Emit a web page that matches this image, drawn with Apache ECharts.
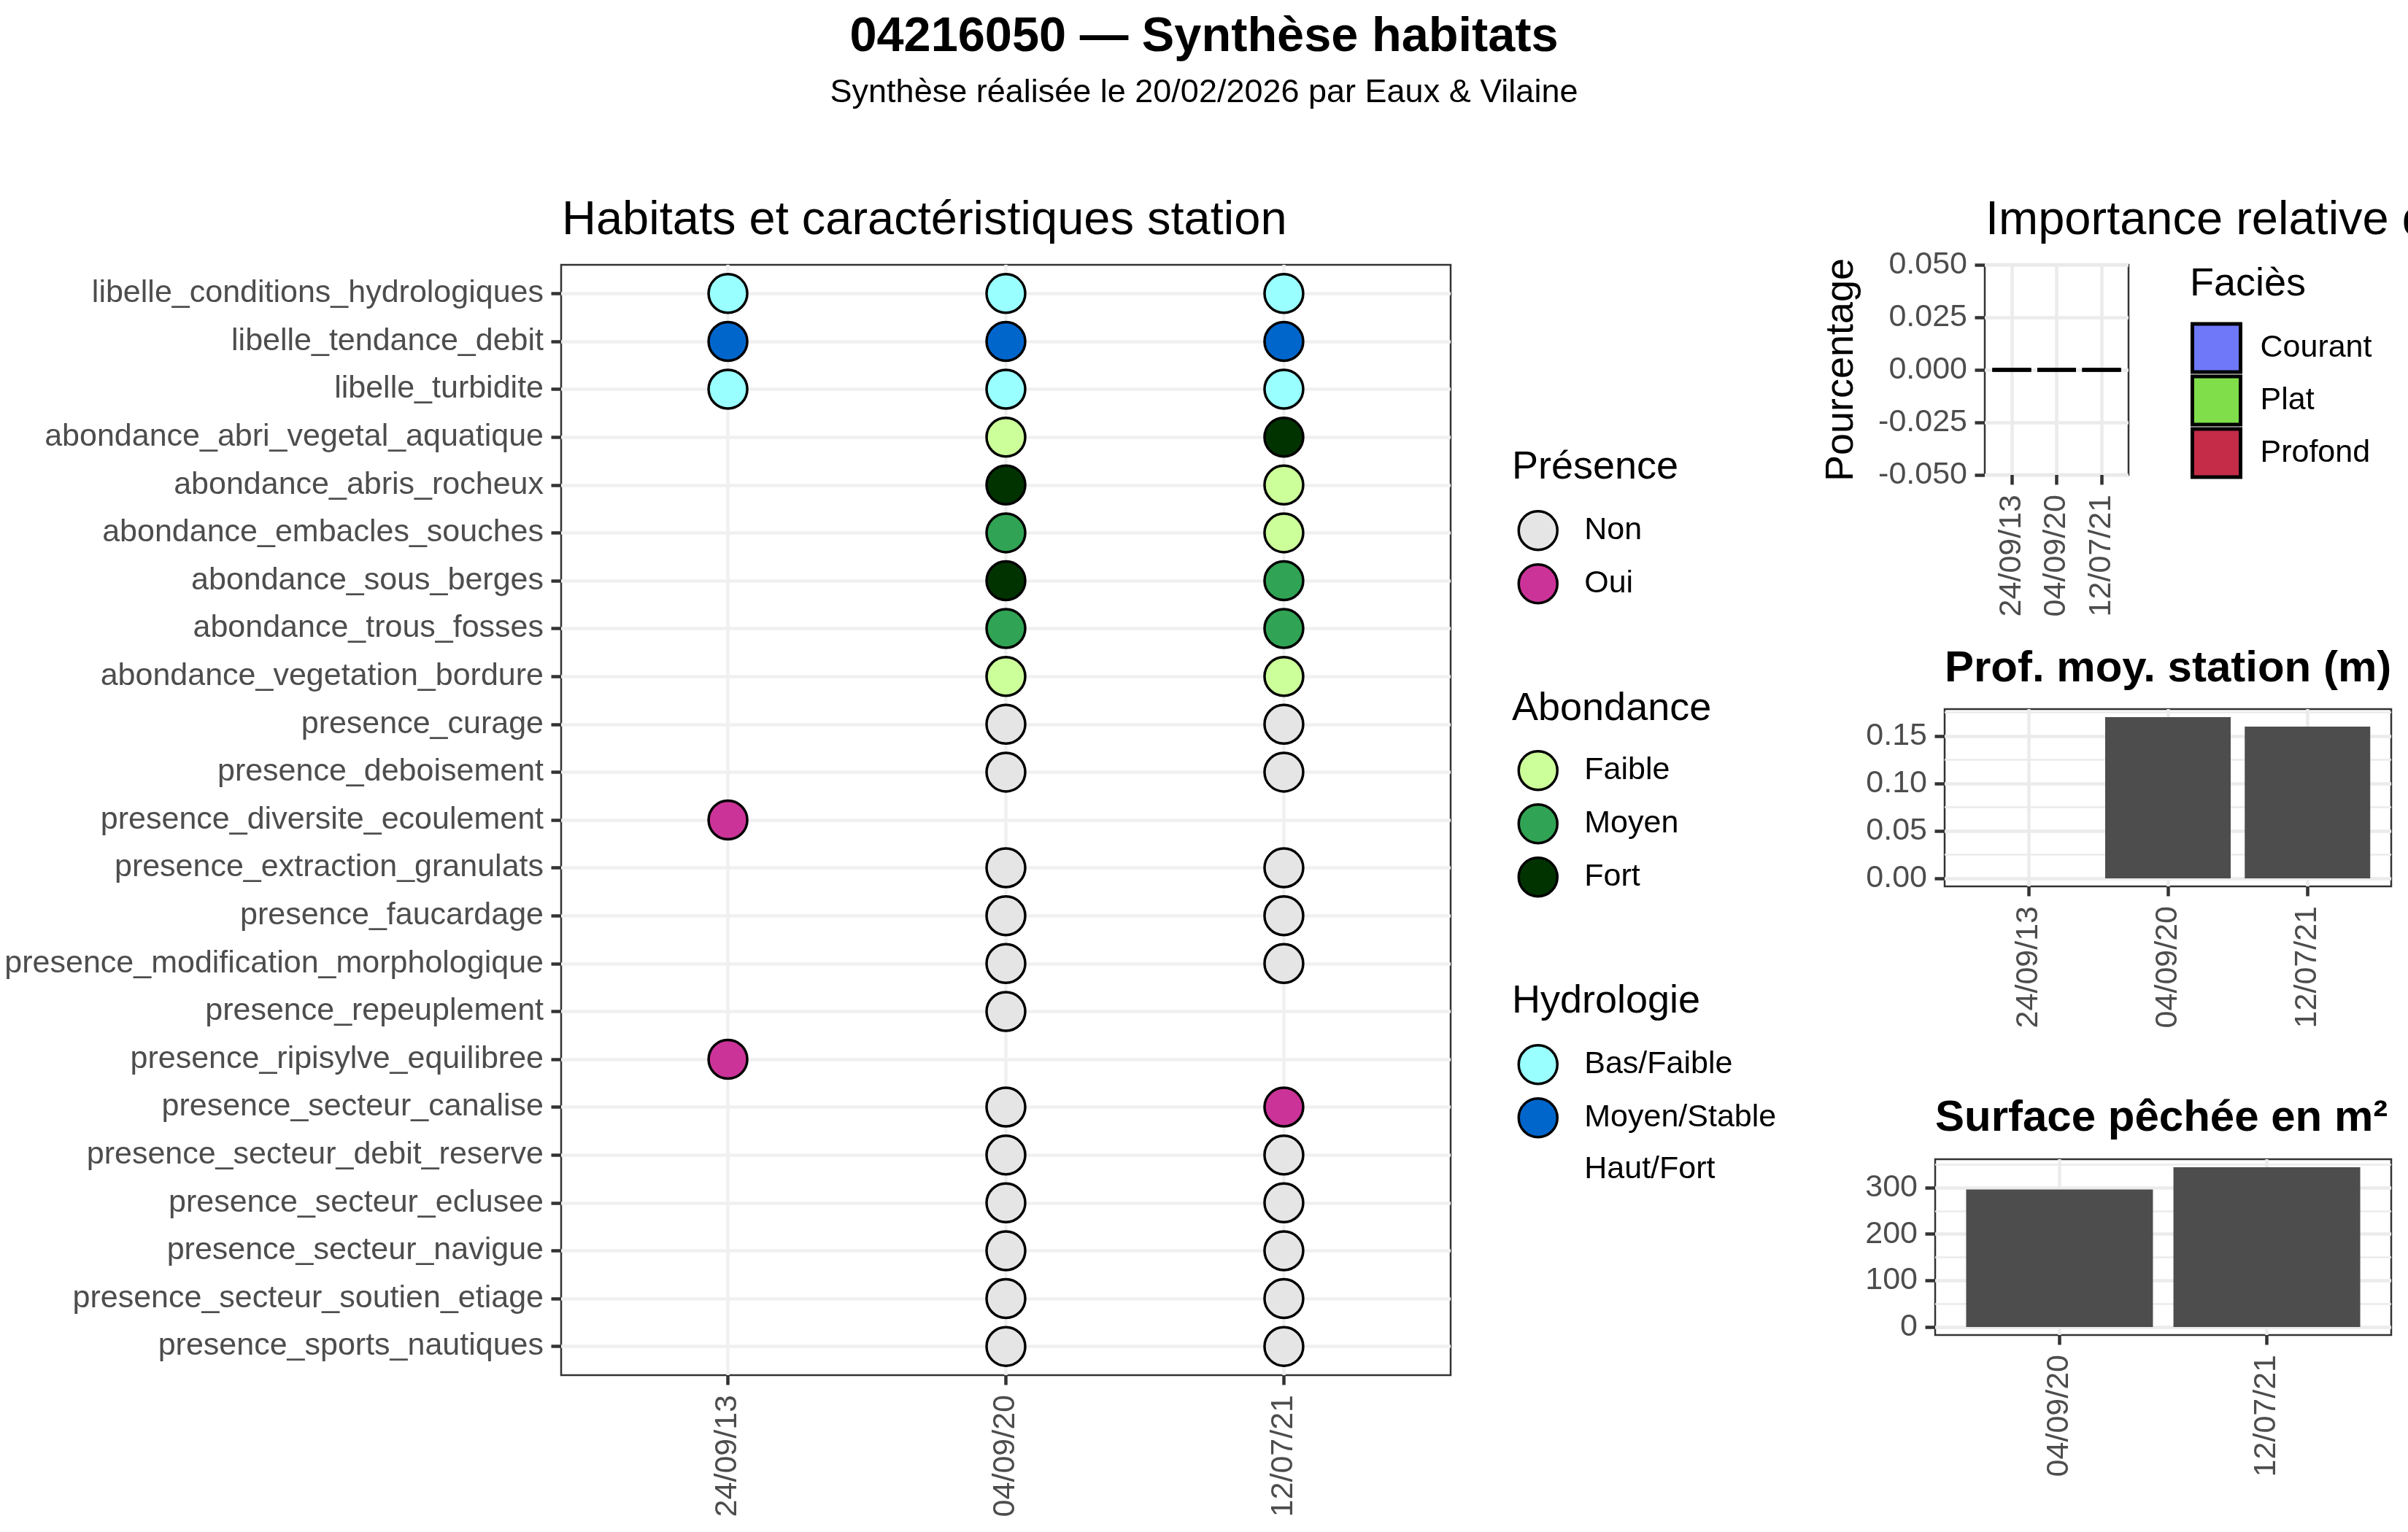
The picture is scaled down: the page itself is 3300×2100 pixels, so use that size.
<!DOCTYPE html>
<html><head><meta charset="utf-8">
<script src="https://cdn.jsdelivr.net/npm/echarts@6/dist/echarts.min.js"></script>
<style>html,body{margin:0;padding:0;background:#fff}#c{width:3300px;height:2100px}</style>
</head><body><div id="c"></div>
<script>
// ---------------- DATA ----------------
const dates = ['24/09/13', '04/09/20', '12/07/21'];
const rows = [
  'libelle_conditions_hydrologiques', 'libelle_tendance_debit', 'libelle_turbidite',
  'abondance_abri_vegetal_aquatique', 'abondance_abris_rocheux', 'abondance_embacles_souches',
  'abondance_sous_berges', 'abondance_trous_fosses', 'abondance_vegetation_bordure',
  'presence_curage', 'presence_deboisement', 'presence_diversite_ecoulement',
  'presence_extraction_granulats', 'presence_faucardage', 'presence_modification_morphologique',
  'presence_repeuplement', 'presence_ripisylve_equilibree', 'presence_secteur_canalise',
  'presence_secteur_debit_reserve', 'presence_secteur_eclusee', 'presence_secteur_navigue',
  'presence_secteur_soutien_etiage', 'presence_sports_nautiques'
];
const obs_240913 = ['Bas/Faible', 'Moyen/Stable', 'Bas/Faible', null, null, null, null, null, null,
  null, null, 'Oui', null, null, null, null, 'Oui', null, null, null, null, null, null];
const obs_040920 = ['Bas/Faible', 'Moyen/Stable', 'Bas/Faible', 'Faible', 'Fort', 'Moyen', 'Fort', 'Moyen', 'Faible',
  'Non', 'Non', null, 'Non', 'Non', 'Non', 'Non', null, 'Non', 'Non', 'Non', 'Non', 'Non', 'Non'];
const obs_120721 = ['Bas/Faible', 'Moyen/Stable', 'Bas/Faible', 'Fort', 'Faible', 'Faible', 'Moyen', 'Moyen', 'Faible',
  'Non', 'Non', null, 'Non', 'Non', 'Non', null, null, 'Oui', 'Non', 'Non', 'Non', 'Non', 'Non'];
const presenceLevels = ['Non', 'Oui'];
const abondanceLevels = ['Faible', 'Moyen', 'Fort'];
const hydroLevels = ['Bas/Faible', 'Moyen/Stable', 'Haut/Fort'];

const faciesNames = ['Courant', 'Plat', 'Profond'];
const faciesCourant = [0, 0, 0];
const faciesPlat = [0, 0, 0];
const faciesProfond = [0, 0, 0];
const faciesTicks = [-0.05, -0.025, 0, 0.025, 0.05];

const profDates = ['24/09/13', '04/09/20', '12/07/21'];
const profMoy = [null, 0.17, 0.16];
const profTicks = [0, 0.05, 0.10, 0.15];
const profMinor = [0.025, 0.075, 0.125, 0.175];

const surfDates = ['04/09/20', '12/07/21'];
const surface = [296, 344];
const surfTicks = [0, 100, 200, 300];
const surfMinor = [50, 150, 250, 350];

// ---------------- STYLE ----------------
const FONT = '"Liberation Sans", Arial, Helvetica, sans-serif';
const levelColors = {
  'Non': '#E5E5E5', 'Oui': '#CC3399',
  'Faible': '#CCFF99', 'Moyen': '#31A354', 'Fort': '#003300',
  'Bas/Faible': '#99FFFF', 'Moyen/Stable': '#0066CC', 'Haut/Fort': '#003366'
};
const faciesColors = { 'Courant': '#6E78F8', 'Plat': '#80DE4B', 'Profond': '#C42C48' };
const GRID_MAJOR = '#EBEBEB';
const TICK = { show: true, length: 13.5, lineStyle: { color: '#333333', width: 4.5 } };
const AXIS_TXT = { fontSize: 43, color: '#4D4D4D', fontFamily: FONT };
const NO_LINE = { show: false, onZero: false };

const obsByDate = [obs_240913, obs_040920, obs_120721];
function pointsFor(level) {
  const pts = [];
  obsByDate.forEach((col, ci) => col.forEach((v, ri) => { if (v === level) pts.push([ci, ri]); }));
  return pts;
}
function idx(arr) { return arr.map((_, i) => i); }

const grids = [
  { left: 769, top: 363, width: 1219, height: 1522 },
  { left: 2720, top: 363, width: 197, height: 288 },
  { left: 2665, top: 972, width: 612, height: 243 },
  { left: 2652, top: 1589, width: 625, height: 241 }
].map(g => Object.assign({ show: true, borderColor: '#333333', borderWidth: 2.5, backgroundColor: '#fff', containLabel: false }, g));

function catX(gridIndex, cats) {
  return {
    type: 'value', gridIndex, min: -0.6, max: cats.length - 1 + 0.6, position: 'bottom',
    axisLine: NO_LINE,
    axisTick: Object.assign({ customValues: idx(cats) }, TICK),
    axisLabel: Object.assign({ customValues: idx(cats), rotate: 90, margin: 27,
      formatter: v => cats[Math.round(v)] }, AXIS_TXT),
    splitLine: { show: true, lineStyle: { color: GRID_MAJOR, width: 4.5 } }
  };
}
function valY(gridIndex, min, max, ticks, fmt) {
  return {
    type: 'value', gridIndex, min, max, position: 'left',
    axisLine: NO_LINE,
    axisTick: Object.assign({ customValues: ticks }, TICK),
    axisLabel: Object.assign({ customValues: ticks, margin: 24, padding: [6, 0, 0, 0], formatter: fmt }, AXIS_TXT),
    splitLine: { show: true, lineStyle: { color: GRID_MAJOR, width: 4.5 } }
  };
}
function minorY(gridIndex, min, max, ticks) {
  return {
    type: 'value', gridIndex, min, max, position: 'right',
    axisLine: NO_LINE,
    axisTick: { show: false, customValues: ticks },
    axisLabel: { show: false, customValues: ticks },
    splitLine: { show: true, lineStyle: { color: GRID_MAJOR, width: 2.5 } }
  };
}

const xAxis = [catX(0, dates), catX(1, dates), catX(2, profDates), catX(3, surfDates)];
xAxis[0].splitLine.lineStyle.color = '#F0F0F0';
const mainY = {
  type: 'value', gridIndex: 0, min: -0.6, max: rows.length - 1 + 0.6, inverse: true, position: 'left',
  axisLine: NO_LINE,
  axisTick: Object.assign({ customValues: idx(rows) }, TICK),
  axisLabel: Object.assign({ customValues: idx(rows), margin: 24, padding: [6, 0, 0, 0], formatter: v => rows[Math.round(v)] }, AXIS_TXT),
  splitLine: { show: true, lineStyle: { color: '#F0F0F0', width: 4.5 } }
};
const profMax = Math.max(...profMoy.filter(v => v != null));
const surfMax = Math.max(...surface);
const yAxis = [
  mainY,
  valY(1, -0.05, 0.05, faciesTicks, v => v.toFixed(3)),
  valY(2, -profMax * 0.05, profMax * 1.05, profTicks, v => v.toFixed(2)),
  valY(3, -surfMax * 0.05, surfMax * 1.05, surfTicks, v => String(Math.round(v))),
  minorY(2, -profMax * 0.05, profMax * 1.05, profMinor),
  minorY(3, -surfMax * 0.05, surfMax * 1.05, surfMinor)
];

const series = [];
[...presenceLevels, ...abondanceLevels, ...hydroLevels].forEach(level => {
  series.push({
    name: level, type: 'scatter', xAxisIndex: 0, yAxisIndex: 0, symbol: 'circle', symbolSize: 53,
    itemStyle: { color: levelColors[level], borderColor: '#000', borderWidth: 3.5, opacity: 1 },
    emphasis: { disabled: true }, silent: true, z: 5,
    data: pointsFor(level)
  });
});
const faciesData = { 'Courant': faciesCourant, 'Plat': faciesPlat, 'Profond': faciesProfond };
faciesNames.forEach(n => {
  series.push({
    name: n, type: 'bar', xAxisIndex: 1, yAxisIndex: 1, stack: 'facies', barWidth: 53,
    itemStyle: { color: faciesColors[n], borderColor: '#000', borderWidth: 5 },
    emphasis: { disabled: true }, silent: true,
    data: faciesData[n].map((v, i) => [i, v])
  });
});
series.push({
  name: 'prof', type: 'bar', xAxisIndex: 2, yAxisIndex: 2, barWidth: 172,
  itemStyle: { color: '#4D4D4D' }, emphasis: { disabled: true }, silent: true,
  data: profMoy.map((v, i) => [i, v]).filter(d => d[1] != null)
});
series.push({
  name: 'surface', type: 'bar', xAxisIndex: 3, yAxisIndex: 3, barWidth: 256,
  itemStyle: { color: '#4D4D4D' }, emphasis: { disabled: true }, silent: true,
  data: surface.map((v, i) => [i, v])
});

const LEG_TXT = { fontSize: 43, color: '#000', fontFamily: FONT, padding: [0, 0, 0, 32] };
function circleLegend(names, top) {
  return {
    orient: 'vertical', left: 2079.5, top, itemWidth: 53, itemHeight: 53, itemGap: 16.5,
    selectedMode: false, padding: 0, textStyle: LEG_TXT,
    itemStyle: { borderColor: '#000', borderWidth: 3.5 },
    data: names.map(n => n === 'Haut/Fort'
      ? { name: n, itemStyle: { opacity: 0, color: 'rgba(0,0,0,0)', borderColor: 'rgba(0,0,0,0)', borderWidth: 0 } }
      : { name: n })
  };
}
const legend = [
  circleLegend(presenceLevels, 699),
  circleLegend(abondanceLevels, 1028),
  circleLegend(hydroLevels, 1431),
  {
    orient: 'vertical', left: 3002, top: 441.5, itemWidth: 66, itemHeight: 66, itemGap: 1, icon: 'rect',
    selectedMode: false, padding: 0,
    textStyle: { fontSize: 43, color: '#000', fontFamily: FONT, padding: [0, 0, 0, 22] },
    itemStyle: { borderColor: '#000', borderWidth: 5 },
    data: faciesNames
  }
];

function txt(text, x, y, size, opts) {
  return Object.assign({
    type: 'text', x, y, silent: true,
    style: Object.assign({ text, fontSize: size, fontFamily: FONT, fill: '#000', align: 'left', verticalAlign: 'middle' }, (opts || {}).style || {})
  }, (opts || {}).el || {});
}
const graphic = [
  txt('04216050 — Synthèse habitats', 1650, 52, 66.7, { style: { fontWeight: 'bold', align: 'center' } }),
  txt('Synthèse réalisée le 20/02/2026 par Eaux & Vilaine', 1650, 128, 45, { style: { align: 'center' } }),
  txt('Habitats et caractéristiques station', 770, 303, 65),
  txt('Importance relative des faciès', 2721, 303, 65),
  txt('Prof. moy. station (m)', 2665, 917, 60, { style: { fontWeight: 'bold' } }),
  txt('Surface pêchée en m²', 2652, 1533, 60, { style: { fontWeight: 'bold' } }),
  txt('Présence', 2072, 641, 54),
  txt('Abondance', 2072, 972, 54),
  txt('Hydrologie', 2072, 1373, 54),
  txt('Faciès', 3001, 390, 54),
  txt('Pourcentage', 2524, 507, 54, { style: { align: 'center' }, el: { rotation: Math.PI / 2 } })
];

const chart = echarts.init(document.getElementById('c'), null, { renderer: 'canvas', width: 3300, height: 2100 });
chart.setOption({
  backgroundColor: '#ffffff',
  animation: false,
  grid: grids, xAxis, yAxis, series, legend, graphic
});
</script>
</body></html>
